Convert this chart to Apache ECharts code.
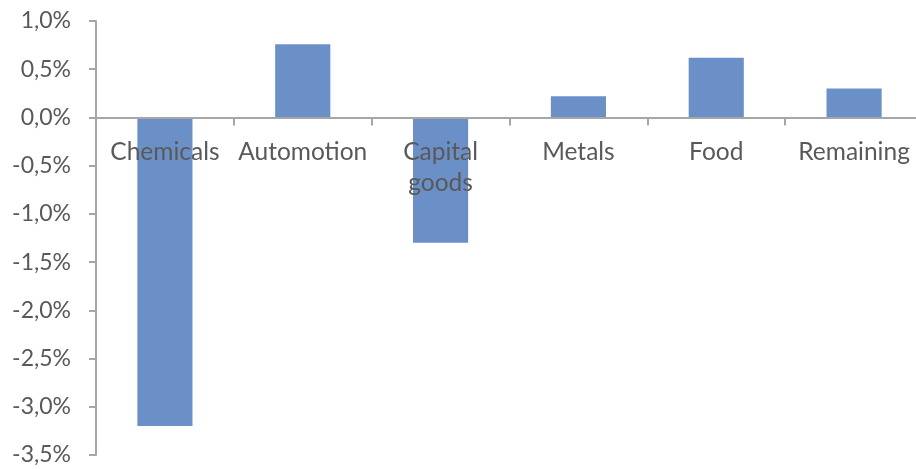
<!DOCTYPE html>
<html>
<head>
<meta charset="utf-8">
<script src="https://cdn.jsdelivr.net/npm/echarts@6/dist/echarts.min.js"></script>
<style>
html,body{margin:0;padding:0;background:#fff;}
#chart{width:916px;height:469px;}
</style>
</head>
<body>
<div id="chart"></div>
<script>
var categories = ["Chemicals", "Automotion", "Capital goods", "Metals", "Food", "Remaining"];
var values = [-3.2, 0.76, -1.3, 0.22, 0.62, 0.30];
var yMin = -3.5, yMax = 1.0, yStep = 0.5;

var W = 916, H = 469;
var gridTop = 21, gridBottom = 14;
var gridH = H - gridTop - gridBottom;
var zeroOffset = (yMax - 0) / (yMax - yMin) * gridH;

var chart = echarts.init(document.getElementById('chart'));
var axisGray = '#a6a6a6';
var textGray = '#595959';
var font = 'Lato, "Open Sans", sans-serif';
chart.setOption({
  animation: false,
  grid: { left: 96, top: gridTop, bottom: gridBottom, right: -7, containLabel: false, outerBoundsMode: 'none' },
  xAxis: [{
    type: 'category',
    data: categories,
    z: 5,
    axisLine: { onZero: true, lineStyle: { color: axisGray, width: 2 } },
    axisTick: { show: true, length: 8, lineStyle: { color: axisGray, width: 2 } },
    axisLabel: { show: false },
    splitLine: { show: false }
  }, {
    type: 'category',
    data: categories,
    position: 'top',
    offset: -zeroOffset,
    z: 6,
    axisLine: { show: false },
    axisTick: { show: false },
    axisLabel: {
      inside: true,
      color: textGray, fontFamily: font, fontSize: 24.5, margin: 19, lineHeight: 31,
      interval: 0,
      formatter: function (v) { return v === 'Capital goods' ? 'Capital\ngoods' : v; }
    },
    splitLine: { show: false }
  }],
  yAxis: {
    type: 'value',
    min: yMin, max: yMax, interval: yStep,
    axisLine: { show: true, lineStyle: { color: axisGray, width: 2 } },
    axisTick: { show: true, length: 7, lineStyle: { color: axisGray, width: 2 } },
    axisLabel: {
      color: textGray, fontFamily: font, fontSize: 23, margin: 25,
      formatter: function (v) { return v.toFixed(1).replace('.', ',') + '%'; }
    },
    splitLine: { show: false }
  },
  series: [{
    type: 'bar',
    xAxisIndex: 0,
    data: values,
    barWidth: '40%',
    itemStyle: { color: '#6b8fc7' }
  }]
});
</script>
</body>
</html>
